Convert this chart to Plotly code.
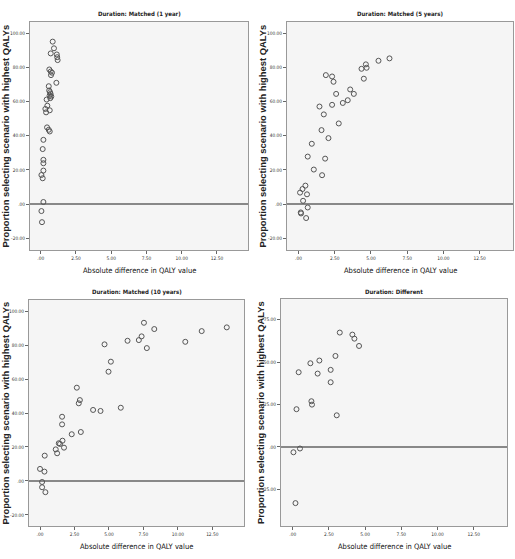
import plotly.graph_objects as go

# ---------------- data ----------------
titles = ["Duration: Matched (1 year)", "Duration: Matched (5 years)",
          "Duration: Matched (10 years)", "Duration: Different"]

x1 = [0.85, 0.94, 0.71, 1.14, 1.17, 1.2, 0.61, 0.71, 0.8, 0.73, 1.11, 0.57,
      0.6, 0.66, 0.7, 0.63, 0.75, 0.68, 0.42, 0.47, 0.33, 0.38, 0.64, 0.45,
      0.57, 0.64, 0.19, 0.14, 0.19, 0.19, 0.19, 0.05, 0.14, 0.19, 0.05, 0.09]
y1 = [95.1, 91.2, 88.2, 87.6, 86.0, 84.3, 78.8, 77.6, 76.9, 75.5, 71.0, 69.0,
      66.5, 65.5, 64.5, 63.5, 63.0, 62.0, 61.2, 57.6, 55.7, 53.7, 54.9, 44.9,
      43.5, 42.5, 37.6, 32.2, 25.9, 23.9, 19.6, 17.0, 15.1, 1.2, -4.1, -10.6]

x2 = [6.28, 5.52, 4.65, 4.7, 4.35, 4.51, 1.89, 2.32, 2.42, 3.57, 3.82, 2.6,
      3.4, 3.06, 2.32, 1.45, 1.75, 2.78, 1.59, 2.07, 0.92, 0.64, 1.84, 1.06,
      1.63, 0.48, 0.28, 0.11, 0.59, 0.32, 0.64, 0.16, 0.18, 0.53]
y2 = [85.3, 83.9, 81.8, 79.8, 79.2, 73.4, 75.5, 74.7, 71.6, 67.1, 64.5, 64.5,
      60.8, 59.2, 58.1, 57.1, 52.5, 47.2, 43.3, 38.6, 35.3, 27.8, 26.6, 20.2,
      16.9, 10.8, 8.8, 6.7, 5.7, 1.9, -2.0, -4.9, -5.5, -8.2]

x3 = [13.55, 11.73, 10.54, 8.29, 7.54, 7.37, 7.17, 7.75, 6.35, 4.68, 5.14, 4.97,
      2.67, 2.89, 2.81, 5.86, 4.39, 3.85, 1.6, 1.6, 2.96, 2.3, 1.36, 1.45,
      1.63, 1.14, 1.74, 1.24, 0.34, 0.0, 0.32, 0.15, 0.15, 0.39]
y3 = [90.4, 88.2, 81.9, 89.4, 93.1, 85.1, 82.9, 78.2, 82.5, 80.4, 70.2, 64.3,
      54.9, 47.6, 45.7, 43.1, 41.2, 41.8, 37.8, 33.3, 28.8, 27.5, 22.2, 21.8,
      23.7, 18.6, 19.6, 16.3, 14.9, 7.1, 5.5, -0.6, -3.7, -6.6]

x4 = [3.25, 4.12, 4.26, 4.58, 2.95, 1.84, 1.22, 0.41, 2.62, 1.72, 2.62, 1.29,
      1.33, 0.26, 3.04, 0.05, 0.5, 0.19]
y4 = [67.4, 66.2, 63.8, 59.5, 53.6, 50.9, 49.3, 44.0, 45.4, 43.2, 38.1, 26.9,
      24.9, 22.2, 18.6, -3.2, -1.0, -33.2]

x_ticks = [0, 2.5, 5, 7.5, 10, 12.5]
x_ticktext = [".00", "2.50", "5.00", "7.50", "10.00", "12.50"]
y_ticks_a = [-20, 0, 20, 40, 60, 80, 100]
y_ticktext_a = ["-20.00", ".00", "20.00", "40.00", "60.00", "80.00", "100.00"]
y_ticks_b = [-25, 0, 25, 50, 75]
y_ticktext_b = ["-25.00", ".00", "25.00", "50.00", "75.00"]

x_title = "Absolute difference in QALY value"
y_title = "Proportion selecting scenario with highest QALYs"

# ---------------- layout ----------------
W, H = 515, 559
panels = [
    dict(x=x1, y=y1, px=(30, 248), py=(22, 250), xr=(-0.76, 14.7), yr=(-26.9, 106.6),
         yt=(y_ticks_a, y_ticktext_a), ytx=4.5),
    dict(x=x2, y=y2, px=(287, 513), py=(22, 250), xr=(-0.79, 14.8), yr=(-26.9, 106.6),
         yt=(y_ticks_a, y_ticktext_a), ytx=261.5),
    dict(x=x3, y=y3, px=(29, 244), py=(300, 526), xr=(-0.8, 14.8), yr=(-26.5, 106.5),
         yt=(y_ticks_a, y_ticktext_a), ytx=4.5),
    dict(x=x4, y=y4, px=(281, 507), py=(299, 526), xr=(-0.81, 14.8), yr=(-46.7, 87.2),
         yt=(y_ticks_b, y_ticktext_b), ytx=260.5),
]

fig = go.Figure()
annotations = []
tick_font = dict(family="Liberation Sans Narrow, DejaVu Sans Condensed, Liberation Sans",
                 size=4.8, color="#333")
for i, p in enumerate(panels):
    n = "" if i == 0 else str(i + 1)
    fig.add_trace(go.Scatter(
        x=p["x"], y=p["y"], mode="markers", xaxis="x" + n, yaxis="y" + n,
        marker=dict(symbol="circle-open", size=5, color="#555", line=dict(width=1, color="#555")),
        showlegend=False, hoverinfo="x+y"))
    xd = [p["px"][0] / W, p["px"][1] / W]
    yd = [(H - p["py"][1]) / H, (H - p["py"][0]) / H]
    fig.update_layout(**{
        "xaxis" + n: dict(domain=xd, range=list(p["xr"]), anchor="y" + n,
                          tickvals=x_ticks, ticktext=x_ticktext, tickfont=tick_font,
                          ticks="outside", ticklen=3, tickcolor="#666", showgrid=False,
                          zeroline=False, showline=True, linecolor="#999", linewidth=1,
                          mirror=True, fixedrange=True),
        "yaxis" + n: dict(domain=yd, range=list(p["yr"]), anchor="x" + n,
                          tickvals=p["yt"][0], ticktext=p["yt"][1], tickfont=tick_font,
                          ticks="outside", ticklen=3, tickcolor="#666", showgrid=False,
                          zeroline=True, zerolinecolor="#888", zerolinewidth=1.5,
                          showline=True, linecolor="#999", linewidth=1, mirror=True,
                          fixedrange=True),
    })
    cx = (p["px"][0] + p["px"][1]) / 2 / W
    # panel title
    annotations.append(dict(text="<b>" + titles[i] + "</b>", x=cx, y=(H - p["py"][0] + 2) / H,
                            xref="paper", yref="paper", xanchor="center", yanchor="bottom",
                            showarrow=False,
                            font=dict(family="DejaVu Sans Condensed, Liberation Sans",
                                      size=6, color="#222")))
    # x axis title
    annotations.append(dict(text=x_title, x=cx, y=(H - p["py"][1] - 14) / H,
                            xref="paper", yref="paper", xanchor="center", yanchor="top",
                            showarrow=False,
                            font=dict(family="DejaVu Sans Condensed, Liberation Sans",
                                      size=7.5, color="#111")))
    # y axis title
    annotations.append(dict(text="<b>" + y_title + "</b>", x=p["ytx"] / W,
                            y=(H - (p["py"][0] + p["py"][1]) / 2) / H,
                            xref="paper", yref="paper", xanchor="center", yanchor="middle",
                            textangle=-90, showarrow=False,
                            font=dict(family="Liberation Sans, Arial", size=9.4, color="#222")))

fig.update_layout(width=W, height=H, margin=dict(l=0, r=0, t=0, b=0),
                  paper_bgcolor="white", plot_bgcolor="#f5f5f5",
                  annotations=annotations)
fig.write_html("out.html")
